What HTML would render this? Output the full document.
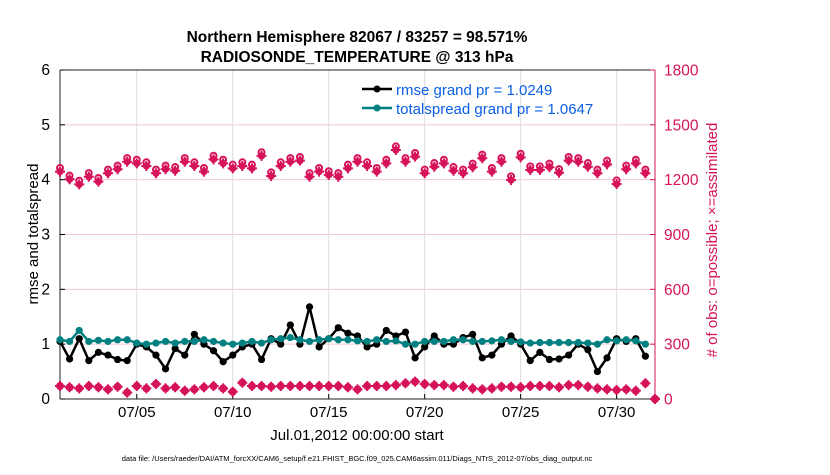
<!DOCTYPE html>
<html><head><meta charset="utf-8"><style>
body{margin:0;background:#fff;font-family:"Liberation Sans",sans-serif}
svg text{font-family:"Liberation Sans",sans-serif}
</style></head><body>
<svg id="chart" width="830" height="470" xmlns="http://www.w3.org/2000/svg">
<g id="grid"></g>
<g id="axes"></g>
<g id="series"></g>
<text x="357" y="42" text-anchor="middle" font-size="15.5" font-weight="bold">Northern Hemisphere 82067 / 83257 = 98.571%</text>
<text x="357" y="62" text-anchor="middle" font-size="15.5" font-weight="bold">RADIOSONDE_TEMPERATURE @ 313 hPa</text>
<text transform="translate(38,234) rotate(-90)" text-anchor="middle" font-size="15">rmse and totalspread</text>
<text transform="translate(717,240) rotate(-90)" text-anchor="middle" font-size="15" fill="#d6135a"># of obs: o=possible; ×=assimilated</text>
<text x="357" y="440" text-anchor="middle" font-size="15">Jul.01,2012 00:00:00 start</text>
<text x="357" y="461" text-anchor="middle" font-size="7.5">data file: /Users/raeder/DAI/ATM_forcXX/CAM6_setup/f.e21.FHIST_BGC.f09_025.CAM6assim.011/Diags_NTrS_2012-07/obs_diag_output.nc</text>
<g>
<line x1="362" y1="89" x2="392" y2="89" stroke="#000" stroke-width="2.5"/><circle cx="377" cy="89" r="3.5" fill="#000"/>
<text x="396" y="95" font-size="15" fill="#0a5ee6">rmse grand pr = 1.0249</text>
<line x1="362" y1="108" x2="392" y2="108" stroke="#008080" stroke-width="2.5"/><circle cx="377" cy="108" r="3.5" fill="#008080"/>
<text x="396" y="114" font-size="15" fill="#0a5ee6">totalspread grand pr = 1.0647</text>
</g>
</svg>
<script>
const rmse=[1.05,0.73,1.1,0.7,0.85,0.8,0.72,0.7,1.0,0.95,0.8,0.55,0.92,0.8,1.18,1.0,0.88,0.68,0.8,0.95,1.0,0.72,1.1,1.0,1.35,1.0,1.68,0.95,1.1,1.3,1.2,1.15,0.95,1.0,1.25,1.15,1.22,0.75,0.95,1.15,1.0,1.0,1.12,1.18,0.75,0.8,1.0,1.15,1.0,0.7,0.85,0.72,0.73,0.8,1.0,0.9,0.5,0.75,1.1,1.05,1.1,0.78];
const spread=[1.08,1.05,1.25,1.05,1.07,1.05,1.08,1.08,1.02,1.0,1.02,1.05,1.02,1.05,1.05,1.08,1.05,1.02,1.0,1.02,1.05,1.02,1.08,1.1,1.12,1.08,1.05,1.08,1.1,1.08,1.08,1.06,1.05,1.08,1.05,1.06,1.0,1.0,1.05,1.05,1.05,1.08,1.08,1.05,1.05,1.06,1.08,1.05,1.04,1.02,1.03,1.03,1.03,1.03,1.03,1.02,1.0,1.08,1.06,1.08,1.06,1.0];
const possibleTop=[1264,1222,1194,1236,1209,1255,1277,1318,1309,1295,1255,1277,1269,1318,1295,1264,1331,1309,1282,1295,1282,1350,1240,1295,1318,1324,1236,1264,1246,1236,1282,1318,1295,1264,1309,1382,1318,1346,1255,1291,1309,1269,1255,1288,1337,1264,1318,1218,1342,1273,1273,1288,1258,1324,1318,1291,1255,1304,1196,1277,1309,1255,0];
const assimTop=[1244,1202,1174,1216,1189,1235,1257,1298,1289,1275,1235,1257,1249,1298,1275,1244,1311,1289,1262,1275,1262,1330,1220,1275,1298,1304,1216,1244,1226,1216,1262,1298,1275,1244,1289,1362,1298,1326,1235,1271,1289,1249,1235,1268,1317,1244,1298,1198,1322,1253,1253,1268,1238,1304,1298,1271,1235,1284,1176,1257,1289,1235,0];
const possibleBot=[71,64,58,71,64,53,67,35,71,58,82,58,64,45,53,64,71,58,40,89,71,71,67,71,71,71,71,71,71,71,64,53,71,71,71,76,86,95,82,76,76,67,71,58,53,58,67,67,64,71,71,71,64,76,76,67,58,53,49,53,45,86,0];
const assimBot=[71,64,58,71,64,53,67,35,71,58,82,58,64,45,53,64,71,58,40,89,71,71,67,71,71,71,71,71,71,71,64,53,71,71,71,76,86,95,82,76,76,67,71,58,53,58,67,67,64,71,71,71,64,76,76,67,58,53,49,53,45,86,0];
const xTickLabels=["07/05","07/10","07/15","07/20","07/25","07/30"];
const xTickDays=[5,10,15,20,25,30];
const leftTicks=[0,1,2,3,4,5,6];
const rightTicks=[0,300,600,900,1200,1500,1800];

const L=60,R=655,T=70,B=399;
const xs=d=>L+(d-1)*(R-L)/31;
const xi=i=>xs(1+i*0.5);
const yl=v=>B-v*(B-T)/6;
const yr=v=>B-v*(B-T)/1800;
const NS="http://www.w3.org/2000/svg";
function mk(tag,attrs,parent){const e=document.createElementNS(NS,tag);for(const k in attrs)e.setAttribute(k,attrs[k]);parent.appendChild(e);return e;}
const grid=document.getElementById('grid'),axes=document.getElementById('axes'),ser=document.getElementById('series');

rightTicks.forEach(v=>{if(v>0&&v<1800){const l=mk('line',{x1:L,x2:R,y1:yr(v),y2:yr(v),stroke:'#f0c8d6','stroke-width':1},grid);

}});
xTickDays.forEach((d,k)=>{const l=mk('line',{x1:xs(d),x2:xs(d),y1:T,y2:B,stroke:'#dcdcdc','stroke-width':1},grid);


mk('line',{x1:xs(d),x2:xs(d),y1:B,y2:B-5,stroke:'#000'},axes);
const t=mk('text',{x:xs(d),y:B+18,'text-anchor':'middle','font-size':15},axes);t.textContent=xTickLabels[k];

});
mk('line',{x1:L,x2:R,y1:T,y2:T,stroke:'#222'},axes);
mk('line',{x1:L,x2:R,y1:B,y2:B,stroke:'#222'},axes);
mk('line',{x1:L,x2:L,y1:T,y2:B,stroke:'#222'},axes);
mk('line',{x1:R,x2:R,y1:T,y2:B,stroke:'#d6135a'},axes);
leftTicks.forEach(v=>{mk('line',{x1:L,x2:L+5,y1:yl(v),y2:yl(v),stroke:'#000'},axes);
const t=mk('text',{x:L-10,y:yl(v)+5,'text-anchor':'end','font-size':15.5},axes);t.textContent=v;

});
rightTicks.forEach(v=>{mk('line',{x1:R-5,x2:R,y1:yr(v),y2:yr(v),stroke:'#d6135a'},axes);
const t=mk('text',{x:R+9,y:yr(v)+5.5,'font-size':15.5,fill:'#d6135a'},axes);t.textContent=v;

});

function obs(arrP,arrA,name){
arrP.forEach((v,i)=>{const c=mk('circle',{cx:xi(i),cy:yr(v),r:3,fill:'#fff',stroke:'#d6135a','stroke-width':2},ser);

});
arrA.forEach((v,i)=>{const x=xi(i),y=yr(v);
const g=mk('g',{},ser);


mk('circle',{cx:x,cy:y,r:3.6,fill:'#d6135a'},g);
mk('path',{d:`M${x-5} ${y}H${x+5}M${x} ${y-5}V${y+5}`,stroke:'#d6135a','stroke-width':2},g);});}
obs(possibleTop,assimTop,'obs-count-top');
obs(possibleBot,assimBot,'obs-count-bottom');

function line(arr,color,name){
const p=mk('polyline',{points:arr.map((v,i)=>xi(i)+','+yl(v)).join(' '),fill:'none',stroke:color,'stroke-width':2.5},ser);


arr.forEach((v,i)=>{const c=mk('circle',{cx:xi(i),cy:yl(v),r:3.6,fill:color},ser);

});}
line(rmse,'#000','rmse');
line(spread,'#008080','totalspread');
</script>
</body></html>
